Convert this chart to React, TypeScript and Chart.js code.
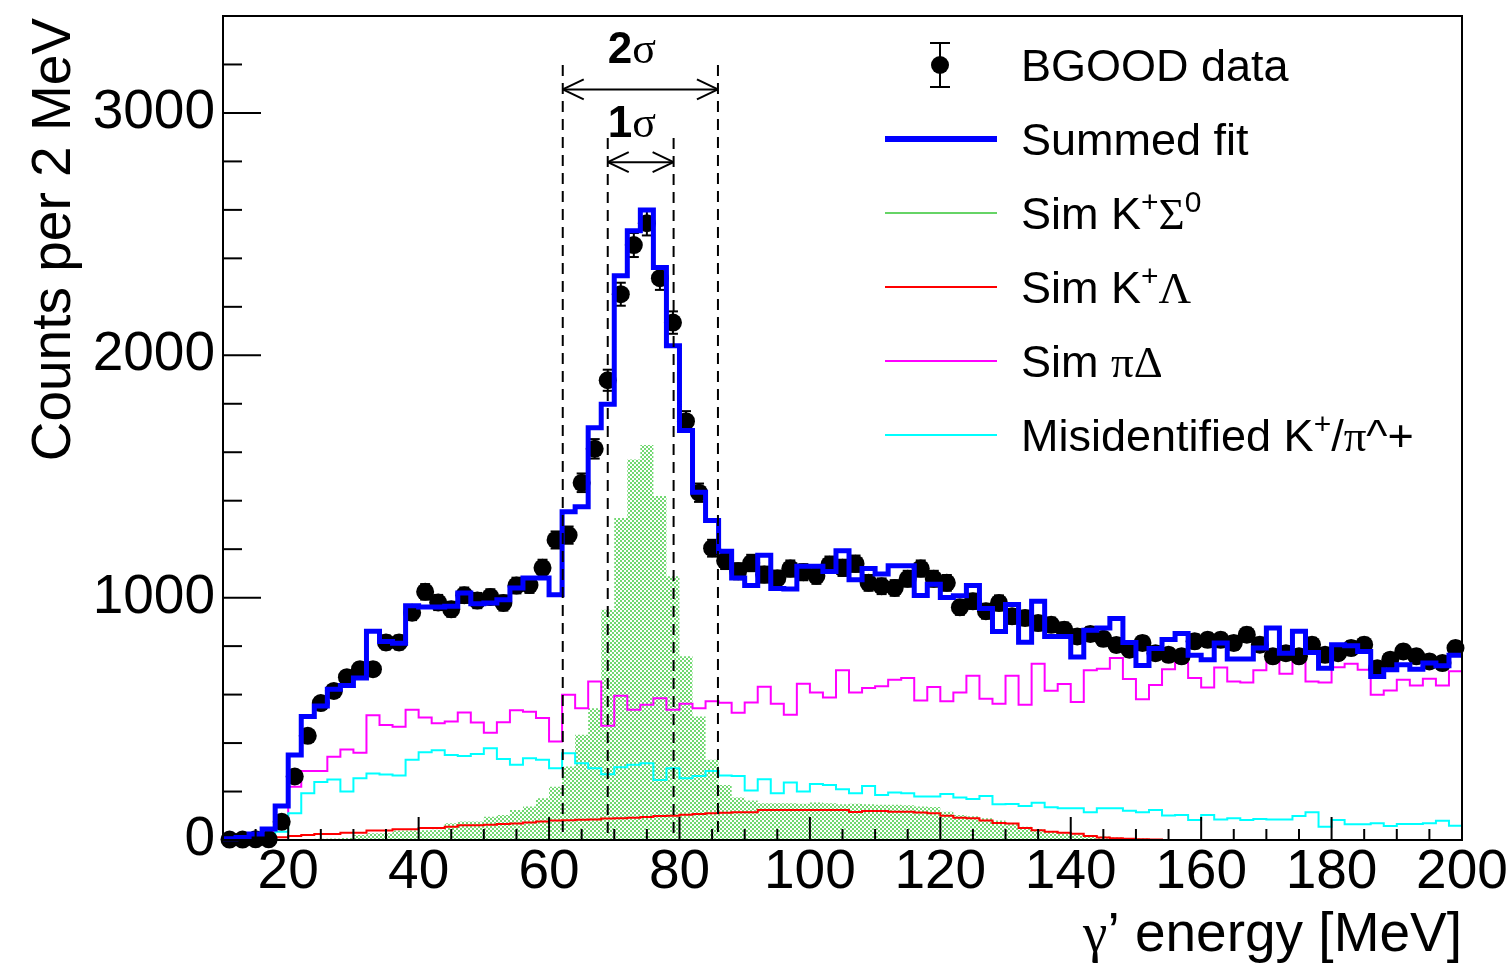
import React, { useEffect, useRef } from "react";
import { Chart, registerables } from "chart.js";

Chart.register(...registerables);

// ---------- axes ----------
const X_MIN = 10;
const X_MAX = 200;
const Y_MIN = 0;
const Y_MAX = 3400;
const BIN_WIDTH = 2;
const X_TICKS = [20, 40, 60, 80, 100, 120, 140, 160, 180, 200];
const Y_TICKS = [0, 1000, 2000, 3000];
const X_MINOR_STEP = 5;
const Y_MINOR_STEP = 200;

// ---------- data (counts per 2 MeV bin, bins from 10 to 200 MeV) ----------
const BGOOD_DATA = [
  2, 2, 3, 3, 75, 262, 430, 565, 615, 672,
  705, 705, 815, 815, 938, 1024, 980, 952, 1010, 988,
  1003, 978, 1050, 1052, 1123, 1238, 1258, 1474, 1614, 1897,
  2252, 2455, 2545, 2318, 2135, 1728, 1433, 1204, 1152, 1109,
  1143, 1095, 1079, 1120, 1105, 1090, 1136, 1123, 1140, 1061,
  1047, 1040, 1078, 1120, 1078, 1061, 960, 985, 944, 978,
  923, 916, 895, 888, 868, 840, 850, 830, 805, 785,
  813, 771, 764, 758, 820, 826, 826, 813, 847, 806,
  758, 771, 758, 806, 764, 771, 792, 806, 709, 744,
  778, 758, 737, 730, 792,
];

const SUMMED_FIT = [
  5, 10, 25, 45, 140, 351, 510, 553, 622, 637,
  668, 861, 819, 812, 967, 961, 961, 964, 1019, 975,
  978, 991, 1040, 1081, 1081, 1012, 1354, 1375, 1701, 1798,
  2328, 2514, 2600, 2362, 2039, 1690, 1435, 1318, 1191, 1081,
  1050, 1175, 1038, 1036, 1130, 1130, 1108, 1193, 1074, 1120,
  1098, 1132, 1132, 1009, 1055, 1001, 1008, 1050, 955, 860,
  972, 816, 985, 840, 840, 755, 865, 875, 914, 815,
  720, 790, 827, 852, 762, 744, 813, 747, 747, 792,
  875, 771, 861, 774, 709, 806, 802, 778, 675, 702,
  723, 705, 730, 719, 762,
];

const SIM_K_SIGMA0 = [
  0, 0, 0, 0, 0, 2, 3, 5, 6, 8,
  21, 28, 28, 39, 39, 40, 42, 69, 76, 76,
  96, 103, 124, 138, 172, 220, 303, 434, 544, 950,
  1329, 1570, 1630, 1419, 1088, 758, 510, 331, 227, 175,
  163, 152, 152, 152, 150, 155, 152, 148, 150, 147,
  145, 145, 143, 138, 136, 117, 103, 98, 90, 80,
  69, 55, 44, 34, 28, 23, 17, 14, 10, 7,
  6, 4, 2, 0, 0, 0, 0, 0, 0, 0,
  0, 0, 0, 0, 0, 0, 0, 0, 0, 0,
  0, 0, 0, 0, 0,
];

const SIM_K_LAMBDA = [
  0, 0, 0, 3, 11, 17, 21, 25, 25, 30,
  30, 39, 39, 44, 44, 50, 50, 55, 61, 61,
  63, 66, 68, 72, 76, 80, 82, 84, 85, 89,
  90, 92, 95, 99, 100, 104, 107, 110, 112, 114,
  114, 124, 124, 124, 124, 124, 124, 124, 116, 120,
  120, 117, 117, 113, 110, 100, 92, 90, 80, 70,
  68, 50, 40, 34, 30, 26, 17, 10, 7, 5,
  3, 2, 0, 0, 0, 0, 0, 0, 0, 0,
  0, 0, 0, 0, 0, 0, 0, 0, 0, 0,
  0, 0, 0, 0, 0,
];

const SIM_PI_DELTA = [
  0, 3, 21, 34, 96, 220, 285, 285, 344, 373,
  360, 515, 475, 467, 537, 505, 482, 489, 526, 485,
  443, 486, 535, 529, 503, 406, 599, 544, 654, 471,
  595, 537, 558, 585, 537, 562, 544, 572, 566, 525,
  567, 632, 562, 517, 645, 609, 588, 700, 609, 627,
  634, 661, 668, 576, 631, 572, 609, 678, 583, 562,
  678, 558, 727, 616, 644, 569, 700, 707, 751, 664,
  581, 640, 705, 730, 668, 629, 712, 654, 650, 700,
  778, 686, 753, 654, 650, 713, 727, 702, 599, 617,
  661, 638, 665, 638, 696,
];

const MISIDENTIFIED = [
  0, 0, 0, 3, 34, 110, 193, 239, 250, 200,
  255, 274, 270, 266, 331, 362, 370, 351, 347, 355,
  379, 334, 310, 337, 331, 296, 358, 317, 296, 271,
  300, 310, 317, 248, 296, 255, 264, 285, 266, 264,
  204, 251, 193, 237, 200, 231, 227, 209, 193, 223,
  186, 196, 193, 179, 179, 190, 175, 169, 182, 148,
  149, 140, 154, 135, 131, 131, 114, 131, 131, 121,
  114, 124, 101, 103, 83, 103, 85, 90, 83, 87,
  85, 85, 99, 114, 55, 83, 65, 65, 69, 58,
  66, 66, 69, 79, 59,
];

// sigma bands (MeV) and annotation heights (counts)
const SIGMA2_RANGE = [62.1, 85.9];
const SIGMA1_RANGE = [69.0, 79.1];
const SIGMA_LABEL_X = 72.7;
const SIGMA2_LEVELS = { top: 3198, arrow: 3097, label: 3206 };
const SIGMA1_LEVELS = { top: 2897, arrow: 2797, label: 2901 };

const BIN_EDGES = Array.from({ length: BGOOD_DATA.length + 1 }, (_, i) => X_MIN + BIN_WIDTH * i);

// ---------- styles ----------
const SANS = '"Liberation Sans", Arial, Helvetica, sans-serif';
const SERIF = '"Liberation Serif", "Times New Roman", serif';
const BLUE = "#0000ff";
const RED = "#ff0000";
const MAGENTA = "#ff00ff";
const CYAN = "#00ffff";
const GREEN = "#66d466";
const GREEN_FILL = "#72d872";

type Part = { t: string; font: string; dy?: number };

function drawRich(ctx: CanvasRenderingContext2D, parts: Part[], x: number, y: number, align: "left" | "right" | "center") {
  let w = 0;
  for (const p of parts) {
    ctx.font = p.font;
    w += ctx.measureText(p.t).width;
  }
  let cx = align === "left" ? x : align === "right" ? x - w : x - w / 2;
  ctx.textAlign = "left";
  ctx.textBaseline = "alphabetic";
  for (const p of parts) {
    ctx.font = p.font;
    ctx.fillText(p.t, cx, y + (p.dy || 0));
    cx += ctx.measureText(p.t).width;
  }
}

function histPoints(vals: number[]) {
  return [
    ...vals.map((v, i) => ({ x: BIN_EDGES[i], y: v })),
    { x: BIN_EDGES[vals.length], y: vals[vals.length - 1] },
  ];
}

function line(ctx: CanvasRenderingContext2D, x1: number, y1: number, x2: number, y2: number) {
  ctx.beginPath();
  ctx.moveTo(x1, y1);
  ctx.lineTo(x2, y2);
  ctx.stroke();
}

const errorBarPlugin = {
  id: "errorBars",
  afterDatasetDraw(chart: any, args: any) {
    if (args.index !== 1) return;
    const { ctx } = chart;
    const xs = chart.scales.x;
    const ys = chart.scales.y;
    ctx.save();
    ctx.strokeStyle = "#000";
    ctx.lineWidth = 2;
    BGOOD_DATA.forEach((v, i) => {
      const err = Math.sqrt(v); // Poisson uncertainty
      const px = xs.getPixelForValue(BIN_EDGES[i] + BIN_WIDTH / 2);
      const y1 = ys.getPixelForValue(v - err);
      const y2 = ys.getPixelForValue(v + err);
      line(ctx, px, y1, px, y2);
      line(ctx, px - 5, y1, px + 5, y1);
      line(ctx, px - 5, y2, px + 5, y2);
    });
    ctx.restore();
  },
};

const decorPlugin = {
  id: "decor",
  afterDatasetsDraw(chart: any) {
    const { ctx } = chart;
    const a = chart.chartArea;
    const xs = chart.scales.x;
    const ys = chart.scales.y;
    ctx.save();
    ctx.strokeStyle = "#000";
    ctx.lineWidth = 2;
    ctx.setLineDash([11, 7]);
    for (const v of SIGMA2_RANGE) {
      const px = xs.getPixelForValue(v);
      line(ctx, px, ys.getPixelForValue(SIGMA2_LEVELS.top), px, a.bottom);
    }
    for (const v of SIGMA1_RANGE) {
      const px = xs.getPixelForValue(v);
      line(ctx, px, ys.getPixelForValue(SIGMA1_LEVELS.top), px, a.bottom);
    }
    ctx.restore();
  },
  afterDraw(chart: any) {
    const { ctx } = chart;
    const a = chart.chartArea;
    const xs = chart.scales.x;
    const ys = chart.scales.y;
    ctx.save();
    ctx.strokeStyle = "#000";
    ctx.fillStyle = "#000";
    ctx.lineWidth = 2;
    ctx.setLineDash([]);

    // frame
    ctx.strokeRect(a.left, a.top, a.right - a.left, a.bottom - a.top);

    // x ticks (inward)
    for (let v = X_MIN; v <= X_MAX + 1e-9; v += X_MINOR_STEP) {
      const px = xs.getPixelForValue(v);
      const major = X_TICKS.includes(v);
      line(ctx, px, a.bottom, px, a.bottom - (major ? 23 : 11));
    }
    // y ticks (inward)
    for (let v = Y_MIN; v <= Y_MAX + 1e-9; v += Y_MINOR_STEP) {
      const py = ys.getPixelForValue(v);
      const major = Y_TICKS.includes(v);
      line(ctx, a.left, py, a.left + (major ? 38 : 19), py);
    }

    // sigma arrows
    const arrow = (x1: number, x2: number, y: number) => {
      line(ctx, x1, y, x2, y);
      line(ctx, x1, y, x1 + 21, y - 10);
      line(ctx, x1, y, x1 + 21, y + 10);
      line(ctx, x2, y, x2 - 21, y - 10);
      line(ctx, x2, y, x2 - 21, y + 10);
    };
    arrow(xs.getPixelForValue(SIGMA2_RANGE[0]), xs.getPixelForValue(SIGMA2_RANGE[1]), ys.getPixelForValue(SIGMA2_LEVELS.arrow));
    arrow(xs.getPixelForValue(SIGMA1_RANGE[0]), xs.getPixelForValue(SIGMA1_RANGE[1]), ys.getPixelForValue(SIGMA1_LEVELS.arrow));
    const lx = xs.getPixelForValue(SIGMA_LABEL_X);
    drawRich(ctx, [{ t: "2", font: `bold 44px ${SANS}` }, { t: "σ", font: `44px ${SERIF}` }], lx, ys.getPixelForValue(SIGMA2_LEVELS.label), "center");
    drawRich(ctx, [{ t: "1", font: `bold 44px ${SANS}` }, { t: "σ", font: `44px ${SERIF}` }], lx, ys.getPixelForValue(SIGMA1_LEVELS.label), "center");

    // axis titles
    drawRich(ctx, [{ t: "γ", font: `55px ${SERIF}` }, { t: "’ energy [MeV]", font: `55px ${SANS}` }], a.right, 951, "right");
    ctx.save();
    ctx.translate(70, 18);
    ctx.rotate(-Math.PI / 2);
    ctx.font = `55px ${SANS}`;
    ctx.textAlign = "right";
    ctx.textBaseline = "alphabetic";
    ctx.fillText("Counts per 2 MeV", 0, 0);
    ctx.restore();

    // legend
    const lx1 = 885;
    const lx2 = 997;
    const tx = 1021;
    const rowY = (k: number) => 65 + 74 * k;
    const big = `45px ${SANS}`;
    const sup = `30px ${SANS}`;
    const ser = `45px ${SERIF}`;
    // data marker
    const mx = 940;
    line(ctx, mx, rowY(0) - 22, mx, rowY(0) + 22);
    line(ctx, mx - 10, rowY(0) - 22, mx + 10, rowY(0) - 22);
    line(ctx, mx - 10, rowY(0) + 22, mx + 10, rowY(0) + 22);
    ctx.beginPath();
    ctx.arc(mx, rowY(0), 9, 0, Math.PI * 2);
    ctx.fill();
    drawRich(ctx, [{ t: "BGOOD data", font: big }], tx, rowY(0) + 16, "left");

    const legLine = (k: number, color: string, w: number) => {
      ctx.save();
      ctx.strokeStyle = color;
      ctx.lineWidth = w;
      line(ctx, lx1, rowY(k), lx2, rowY(k));
      ctx.restore();
    };
    legLine(1, BLUE, 6);
    drawRich(ctx, [{ t: "Summed fit", font: big }], tx, rowY(1) + 16, "left");
    legLine(2, GREEN, 2);
    drawRich(ctx, [
      { t: "Sim K", font: big },
      { t: "+", font: sup, dy: -17 },
      { t: "Σ", font: ser },
      { t: "0", font: sup, dy: -17 },
    ], tx, rowY(2) + 16, "left");
    legLine(3, RED, 2);
    drawRich(ctx, [
      { t: "Sim K", font: big },
      { t: "+", font: sup, dy: -17 },
      { t: "Λ", font: ser },
    ], tx, rowY(3) + 16, "left");
    legLine(4, MAGENTA, 2);
    drawRich(ctx, [
      { t: "Sim ", font: big },
      { t: "πΔ", font: ser },
    ], tx, rowY(4) + 16, "left");
    legLine(5, CYAN, 2);
    drawRich(ctx, [
      { t: "Misidentified K", font: big },
      { t: "+", font: sup, dy: -17 },
      { t: "/", font: big },
      { t: "π", font: ser },
      { t: "^+", font: big },
    ], tx, rowY(5) + 16, "left");

    ctx.restore();
  },
};

export default function App() {
  const canvasRef = useRef<HTMLCanvasElement | null>(null);

  useEffect(() => {
    const canvas = canvasRef.current;
    if (!canvas) return;
    const ctx = canvas.getContext("2d");
    if (!ctx) return;

    const pc = document.createElement("canvas");
    pc.width = 4;
    pc.height = 4;
    const pctx = pc.getContext("2d")!;
    pctx.fillStyle = GREEN_FILL;
    pctx.fillRect(0, 0, 2, 2);
    pctx.fillRect(2, 2, 2, 2);
    const pattern = ctx.createPattern(pc, "repeat");

    const histDs = (label: string, vals: number[], color: string, width: number, order: number) => ({
      label,
      data: histPoints(vals),
      borderColor: color,
      borderWidth: width,
      stepped: "before" as const,
      pointRadius: 0,
      fill: false,
      order,
      clip: false as const,
      borderJoinStyle: "miter" as const,
      borderCapStyle: "butt" as const,
    });

    const tickFont = { family: SANS, size: 55 };

    const chart = new Chart(ctx, {
      type: "line",
      data: {
        datasets: [
          histDs("Summed fit", SUMMED_FIT, BLUE, 5, 0),
          {
            label: "BGOOD data",
            data: BGOOD_DATA.map((v, i) => ({ x: BIN_EDGES[i] + BIN_WIDTH / 2, y: v })),
            showLine: false,
            pointRadius: 9,
            pointBackgroundColor: "#000",
            pointBorderColor: "#000",
            pointBorderWidth: 0,
            order: 1,
            clip: false,
          } as any,
          histDs("Misidentified", MISIDENTIFIED, CYAN, 2, 2),
          histDs("Sim piDelta", SIM_PI_DELTA, MAGENTA, 2, 3),
          histDs("Sim KLambda", SIM_K_LAMBDA, RED, 2, 4),
          {
            label: "Sim KSigma0",
            data: histPoints(SIM_K_SIGMA0),
            borderColor: "rgba(0,0,0,0)",
            borderWidth: 1,
            backgroundColor: pattern as any,
            fill: "origin",
            stepped: "before",
            pointRadius: 0,
            order: 5,
          } as any,
        ],
      },
      options: {
        responsive: false,
        devicePixelRatio: 1,
        animation: false,
        events: [],
        layout: { padding: { left: 0, right: 45, top: 16, bottom: 0 } },
        plugins: { legend: { display: false }, tooltip: { enabled: false } },
        scales: {
          x: {
            type: "linear",
            min: X_MIN,
            max: X_MAX,
            grid: { display: false, drawTicks: false, tickLength: 0 },
            border: { display: false },
            ticks: {
              font: tickFont,
              color: "#000",
              padding: 0,
              maxRotation: 0,
              autoSkip: false,
              callback: (v: any) => String(v),
            },
            afterBuildTicks: (s: any) => {
              s.ticks = X_TICKS.map((v) => ({ value: v }));
            },
            afterFit: (s: any) => {
              s.height = 125;
              s.paddingLeft = 0;
              s.paddingRight = 0;
            },
          },
          y: {
            type: "linear",
            min: Y_MIN,
            max: Y_MAX,
            grid: { display: false, drawTicks: false, tickLength: 0 },
            border: { display: false },
            ticks: {
              font: tickFont,
              color: "#000",
              padding: 8,
              callback: (v: any) => String(v),
            },
            afterBuildTicks: (s: any) => {
              s.ticks = Y_TICKS.map((v) => ({ value: v }));
            },
            afterFit: (s: any) => {
              s.width = 223;
              s.paddingTop = 0;
              s.paddingBottom = 0;
            },
          },
        },
      },
      plugins: [errorBarPlugin, decorPlugin],
    } as any);

    return () => chart.destroy();
  }, []);

  return (
    <div style={{ position: "absolute", left: 0, top: 0, width: 1507, height: 965, background: "#fff" }}>
      <canvas ref={canvasRef} width={1507} height={965} style={{ display: "block", width: 1507, height: 965 }} />
    </div>
  );
}
